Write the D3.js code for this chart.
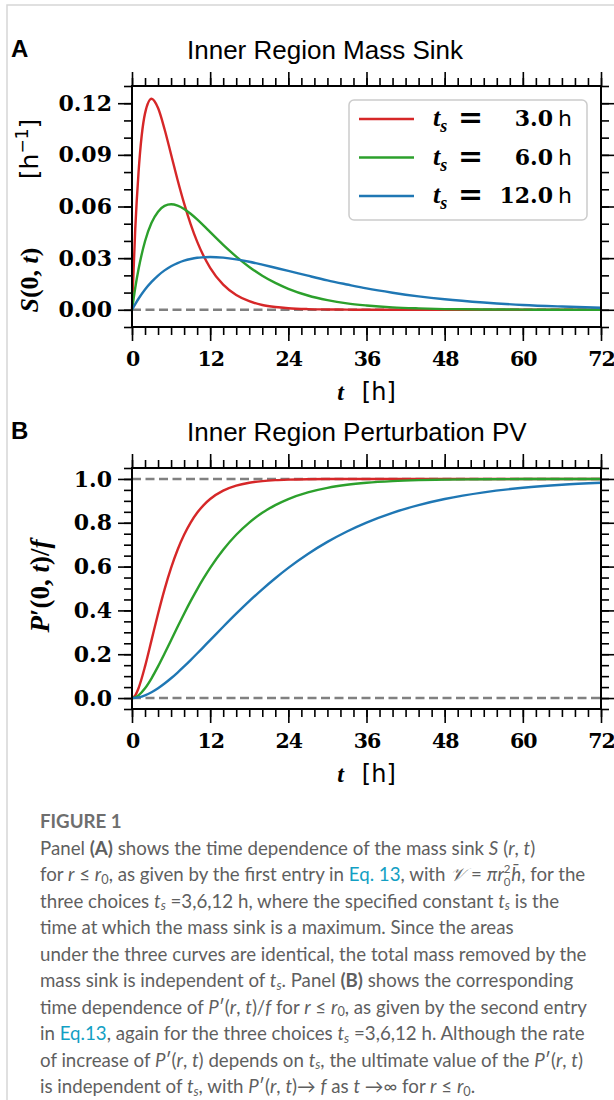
<!DOCTYPE html>
<html>
<head>
<meta charset="utf-8">
<script src="https://cdn.jsdelivr.net/npm/d3@7"></script>
<style>
  html, body { margin: 0; padding: 0; background: #fff; }
  #fig { position: relative; width: 614px; height: 1100px; overflow: hidden; }
  #fig svg { position: absolute; left: 0; top: 0; }
  #caption { position: absolute; left: 40px; top: 808px; font-family: Lato, "Open Sans", sans-serif; color: #5f5f5f; font-size: 17px; }
  #caption .cl { white-space: nowrap; height: 26.5px; line-height: 26.5px; }
  #caption .fig-title { font-weight: 700; color: #6e6e6e; }
  #caption a { color: #139fc4; text-decoration: none; }
  #caption sup { font-size: 0.68em; line-height: 0; }
  #caption sub { font-size: 0.68em; line-height: 0; vertical-align: baseline; position: relative; top: 0.22em; }
  #caption .ss { display: inline-block; position: relative; width: 0.4em; height: 1em; }
  #caption .ss span { position: absolute; left: 0; font-size: 0.62em; line-height: 1; font-style: normal; }
  #caption .ss .up { top: 0.05em; }
  #caption .ss .dn { top: 1.15em; }
</style>
</head>
<body>
<div id="fig"></div>
<script>
// sampled times (h)
const hours = [0, 0.5, 1, 2, 3, 4, 5, 6, 7, 8, 9, 10, 11, 12, 14, 16, 18, 20, 22, 24, 27, 30, 33, 36, 40, 44, 48, 54, 60, 66, 72];

// panel A : S(0,t) [1/h]
const sinkTs3  = [0, 0.0470, 0.0796, 0.1141, 0.1226, 0.1172, 0.1049, 0.0902, 0.0754, 0.0618, 0.0498, 0.0396, 0.0312, 0.0244, 0.0146, 0.0086, 0.0050, 0.0028, 0.0016, 0.0009, 0.0004, 0.0002, 0.0001, 0, 0, 0, 0, 0, 0, 0, 0];
const sinkTs6  = [0, 0.0128, 0.0235, 0.0398, 0.0505, 0.0570, 0.0604, 0.0613, 0.0605, 0.0586, 0.0558, 0.0525, 0.0489, 0.0451, 0.0377, 0.0309, 0.0249, 0.0198, 0.0156, 0.0122, 0.0083, 0.0056, 0.0037, 0.0025, 0.0014, 0.0008, 0.0004, 0.0002, 0.0001, 0, 0];
const sinkTs12 = [0, 0.0033, 0.0064, 0.0118, 0.0162, 0.0199, 0.0229, 0.0253, 0.0271, 0.0285, 0.0295, 0.0302, 0.0305, 0.0307, 0.0303, 0.0293, 0.0279, 0.0262, 0.0244, 0.0226, 0.0198, 0.0171, 0.0147, 0.0124, 0.0099, 0.0078, 0.0061, 0.0042, 0.0028, 0.0019, 0.0012];

// panel B : P'(0,t)/f
const pvTs3  = [0, 0.0124, 0.0447, 0.1443, 0.2642, 0.3849, 0.4963, 0.5940, 0.6768, 0.7452, 0.8009, 0.8454, 0.8807, 0.9084, 0.9467, 0.9694, 0.9826, 0.9902, 0.9946, 0.9970, 0.9988, 0.9995, 0.9998, 0.9999, 1, 1, 1, 1, 1, 1, 1];
const pvTs6  = [0, 0.0033, 0.0124, 0.0447, 0.0902, 0.1443, 0.2032, 0.2642, 0.3253, 0.3849, 0.4422, 0.4963, 0.5469, 0.5940, 0.6768, 0.7452, 0.8009, 0.8454, 0.8807, 0.9084, 0.9389, 0.9596, 0.9734, 0.9826, 0.9902, 0.9946, 0.9970, 0.9988, 0.9995, 0.9998, 0.9999];
const pvTs12 = [0, 0.0008, 0.0033, 0.0124, 0.0265, 0.0447, 0.0661, 0.0902, 0.1165, 0.1443, 0.1733, 0.2032, 0.2337, 0.2642, 0.3253, 0.3849, 0.4422, 0.4963, 0.5469, 0.5940, 0.6575, 0.7127, 0.7603, 0.8009, 0.8454, 0.8807, 0.9084, 0.9389, 0.9596, 0.9734, 0.9826];

const tsLabels   = ['3.0', '6.0', '12.0'];
const xTicks     = [0, 12, 24, 36, 48, 60, 72];
const sinkTicks  = [0, 0.03, 0.06, 0.09, 0.12];
const pvTicks    = [0, 0.2, 0.4, 0.6, 0.8, 1.0];
const pvRefLines = [0, 1];
const sinkRefLines = [0];

const colors = ['#d62728', '#2ca02c', '#1f77b4'];
const SERIF = 'DejaVu Serif';
const MATH = 'Liberation Serif';
const SANS = 'DejaVu Sans';

const svg = d3.select('#fig').append('svg')
  .attr('width', 614).attr('height', 1100);

// page frame (grey border on the left / top)
svg.append('path')
  .attr('d', 'M7,1100V5H614')
  .attr('fill', 'none').attr('stroke', '#d6d6d6').attr('stroke-width', 1.5);

const x = d3.scaleLinear().domain([0, 72]).range([132, 601]);
const xMinor = d3.range(0, 37).map(i => i * 2);

function panel(o) {
  const y = d3.scaleLinear().domain(o.yDomain).range([o.bottom, o.top]);
  const g = svg.append('g');

  // dashed reference lines
  g.selectAll('line.ref').data(o.refs).join('line')
    .attr('class', 'ref')
    .attr('x1', x(0)).attr('x2', x(72))
    .attr('y1', d => y(d)).attr('y2', d => y(d))
    .attr('stroke', '#808080').attr('stroke-width', 2.4)
    .attr('stroke-dasharray', '9,4.5');

  const line = d3.line()
    .x((d, i) => x(hours[i]))
    .y(d => y(d))
    .curve(d3.curveMonotoneX);

  g.selectAll('path.curve').data(o.series).join('path')
    .attr('class', 'curve')
    .attr('d', line)
    .attr('fill', 'none')
    .attr('stroke', (d, i) => colors[i])
    .attr('stroke-width', 2.4);

  // ticks on all four sides, outward
  const ax = (fn, scale, vals, size, tr, fmt) => {
    const a = fn(scale).tickValues(vals).tickSize(size).tickPadding(6)
      .tickFormat(fmt || '');
    const s = g.append('g').attr('transform', tr).call(a);
    s.select('.domain').remove();
    s.selectAll('line').attr('stroke', '#000').attr('stroke-width', 1.6);
    s.selectAll('text')
      .attr('fill', '#000')
      .attr('font-family', SERIF)
      .attr('font-weight', 'bold')
      .attr('font-size', 22);
    return s;
  };
  ax(d3.axisBottom, x, xMinor, 8, `translate(0,${o.bottom})`);
  ax(d3.axisTop, x, xMinor, 8, `translate(0,${o.top})`);
  const bx = ax(d3.axisBottom, x, xTicks, 14, `translate(0,${o.bottom})`, d3.format('d'));
  bx.selectAll('text').attr('dy', '0.95em').attr('font-size', 20.5).attr('letter-spacing', -1);
  ax(d3.axisTop, x, xTicks, 14, `translate(0,${o.top})`);
  ax(d3.axisLeft, y, o.yMinor, 8, `translate(${x(0)},0)`);
  ax(d3.axisRight, y, o.yMinor, 8, `translate(${x(72)},0)`);
  ax(d3.axisLeft, y, o.yTicks, 14, `translate(${x(0)},0)`, o.fmt);
  ax(d3.axisRight, y, o.yTicks, 14, `translate(${x(72)},0)`);

  g.append('rect')
    .attr('x', x(0)).attr('y', o.top)
    .attr('width', x(72) - x(0)).attr('height', o.bottom - o.top)
    .attr('fill', 'none').attr('stroke', '#000').attr('stroke-width', 2);

  // panel letter + title
  g.append('text').attr('x', 11).attr('y', o.top - 29)
    .attr('font-family', 'Liberation Sans').attr('font-weight', 'bold')
    .attr('font-size', 24).text(o.letter);
  g.append('text').attr('x', 187).attr('y', o.top - 27)
    .attr('font-family', 'Liberation Sans').attr('font-size', 26)
    .text(o.title);

  // x label
  const xl = g.append('text')
    .attr('x', (x(0) + x(72)) / 2).attr('y', o.bottom + 73)
    .attr('text-anchor', 'middle').attr('font-size', 24);
  xl.append('tspan').attr('font-family', MATH).attr('font-style', 'italic').attr('font-weight', 'bold').text('t');
  xl.append('tspan').attr('font-family', SANS).attr('dx', 18).text('[h]');

  o.ylabel(g, y);
  return { g, y };
}

// ---- panel A
panel({
  top: 86, bottom: 327,
  yDomain: [-0.01, 0.13],
  yTicks: sinkTicks,
  yMinor: d3.range(-1, 14).map(i => i / 100),
  fmt: d3.format('.2f'),
  refs: sinkRefLines,
  series: [sinkTs3, sinkTs6, sinkTs12],
  letter: 'A',
  title: 'Inner Region Mass Sink',
  ylabel: (g) => {
    const t1 = g.append('text').attr('transform', 'translate(38,280) rotate(-90)')
      .attr('text-anchor', 'middle').attr('font-family', MATH)
      .attr('font-weight', 'bold').attr('font-size', 26);
    t1.append('tspan').attr('font-style', 'italic').text('S');
    t1.append('tspan').text('(0, ');
    t1.append('tspan').attr('font-style', 'italic').text('t');
    t1.append('tspan').text(')');
    const t2 = g.append('text').attr('transform', 'translate(38,149) rotate(-90)')
      .attr('text-anchor', 'middle').attr('font-family', SANS).attr('font-size', 25);
    t2.append('tspan').text('[h');
    t2.append('tspan').attr('font-size', 17).attr('dy', -10).text('\u22121');
    t2.append('tspan').attr('dy', 10).text(']');
  }
});

// legend (panel A)
const leg = svg.append('g');
leg.append('rect')
  .attr('x', 349).attr('y', 100).attr('width', 238).attr('height', 120)
  .attr('rx', 5).attr('fill', '#fff').attr('fill-opacity', 0.85)
  .attr('stroke', '#cccccc').attr('stroke-width', 1.5);
const legRows = leg.selectAll('g.row').data(tsLabels).join('g')
  .attr('class', 'row')
  .attr('transform', (d, i) => `translate(0,${119 + i * 38.5})`);
legRows.append('line')
  .attr('x1', 359).attr('x2', 414)
  .attr('stroke', (d, i) => colors[i]).attr('stroke-width', 2.4);
const ts = legRows.append('text').attr('x', 433).attr('y', 7)
  .attr('font-family', MATH).attr('font-weight', 'bold').attr('font-style', 'italic').attr('font-size', 26);
ts.append('tspan').text('t');
ts.append('tspan').attr('font-size', 18).attr('dy', 6).text('s');
legRows.append('text').attr('x', 458).attr('y', 8)
  .attr('font-family', SERIF).attr('font-weight', 'bold').attr('font-size', 30)
  .text('=');
legRows.append('text').attr('x', 553).attr('y', 7).attr('text-anchor', 'end')
  .attr('font-family', SERIF).attr('font-weight', 'bold').attr('font-size', 22)
  .text(d => d);
legRows.append('text').attr('x', 558).attr('y', 7)
  .attr('font-family', SANS).attr('font-size', 22).text('h');

// ---- panel B
panel({
  top: 468, bottom: 709,
  yDomain: [-0.05, 1.05],
  yTicks: pvTicks,
  yMinor: d3.range(-1, 22).map(i => i * 0.05),
  fmt: d3.format('.1f'),
  refs: pvRefLines,
  series: [pvTs3, pvTs6, pvTs12],
  letter: 'B',
  title: 'Inner Region Perturbation PV',
  ylabel: (g) => {
    const t = g.append('text').attr('transform', 'translate(49,586) rotate(-90)')
      .attr('text-anchor', 'middle').attr('font-family', MATH)
      .attr('font-weight', 'bold').attr('font-size', 27);
    t.append('tspan').attr('font-style', 'italic').text('P');
    t.append('tspan').text('\u2032(0, ');
    t.append('tspan').attr('font-style', 'italic').text('t');
    t.append('tspan').text(')/');
    t.append('tspan').attr('font-style', 'italic').text('f');
  }
});

// ---- caption
const r0sq = '<span class="ss"><span class="up">2</span><span class="dn">0</span></span>';
const captionLines = [
  'Panel <b>(A)</b> shows the time dependence of the mass sink <i>S</i> (<i>r</i>, <i>t</i>)',
  'for <i>r</i> ≤ <i>r</i><sub>0</sub>, as given by the first entry in <a>Eq. 13</a>, with <i>𝒱</i> = <i>πr</i>' + r0sq + '<i>h̄</i>, for the',
  'three choices <i>t</i><sub><i>s</i></sub> =3,6,12 h, where the specified constant <i>t</i><sub><i>s</i></sub> is the',
  'time at which the mass sink is a maximum. Since the areas',
  'under the three curves are identical, the total mass removed by the',
  'mass sink is independent of <i>t</i><sub><i>s</i></sub>. Panel <b>(B)</b> shows the corresponding',
  'time dependence of <i>P</i>′(<i>r</i>, <i>t</i>)/<i>f</i> for <i>r</i> ≤ <i>r</i><sub>0</sub>, as given by the second entry',
  'in <a>Eq.13</a>, again for the three choices <i>t</i><sub><i>s</i></sub> =3,6,12 h. Although the rate',
  'of increase of <i>P</i>′(<i>r</i>, <i>t</i>) depends on <i>t</i><sub><i>s</i></sub>, the ultimate value of the <i>P</i>′(<i>r</i>, <i>t</i>)',
  'is independent of <i>t</i><sub><i>s</i></sub>, with <i>P</i>′(<i>r</i>, <i>t</i>)→ <i>f</i> as <i>t</i> →∞ for <i>r</i> ≤ <i>r</i><sub>0</sub>.'
];

const cap = d3.select('#fig').append('div').attr('id', 'caption');
cap.append('div').attr('class', 'cl fig-title').text('FIGURE 1');
const rows = cap.selectAll('div.body').data(captionLines).join('div')
  .attr('class', 'cl body').html(d => d);

// fit the caption font so the longest full line spans the same width as the reference
const ref = rows.nodes()[4];
const span = document.createElement('span');
span.innerHTML = ref.innerHTML;
ref.innerHTML = '';
ref.appendChild(span);
const w = span.getBoundingClientRect().width;
cap.style('font-size', (17 * 547 / w).toFixed(2) + 'px');
</script>
</body>
</html>
